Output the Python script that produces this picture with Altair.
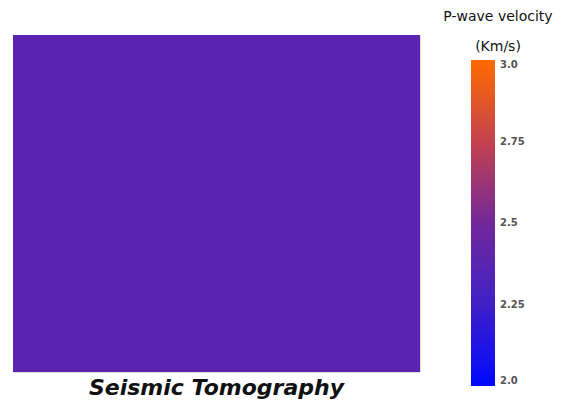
import altair as alt
import pandas as pd

# data: a uniform tomography field
x0 = [0]
x1 = [1]
y0 = [0]
y1 = [1]
velocity = [2.38]

scale_domain = [2.0, 2.25, 2.5, 2.75, 3.0]
scale_range = ["#0008ff", "#4020c8", "#72289a", "#c4424e", "#ff6a00"]
legend_ticks = [2.0, 2.25, 2.5, 2.75, 3.0]

df = pd.DataFrame({"x0": x0, "x1": x1, "y0": y0, "y1": y1, "v": velocity})

chart = alt.Chart(df).mark_rect(stroke=None).encode(
    x=alt.X("x0:Q", axis=None, scale=alt.Scale(domain=[0, 1], nice=False, zero=False)),
    x2="x1:Q",
    y=alt.Y("y0:Q", axis=None, scale=alt.Scale(domain=[0, 1], nice=False, zero=False)),
    y2="y1:Q",
    color=alt.Color(
        "v:Q",
        scale=alt.Scale(domain=scale_domain, range=scale_range, interpolate="rgb"),
        legend=alt.Legend(
            title=["P-wave velocity", "(Km/s)"],
            orient="none",
            legendX=430,
            legendY=-25,
            direction="vertical",
            gradientLength=326,
            gradientThickness=24,
            gradientStrokeWidth=0,
            values=legend_ticks,
            labelExpr="datum.value == 2 ? '2.0' : datum.value == 3 ? '3.0' : format(datum.value, '.2~f')",
            labelFont="DejaVu Sans",
            labelFontSize=10,
            labelFontWeight="bold",
            labelColor="#555555",
            labelOffset=5,
            titleFont="DejaVu Sans",
            titleFontSize=14,
            titleFontWeight="normal",
            titleColor="#111111",
            titleAlign="center",
            titleAnchor="middle",
            titleLineHeight=30,
            titlePadding=6,
            titleLimit=300,
        ),
    ),
).properties(
    width=407,
    height=337,
    title=alt.TitleParams(
        "Seismic Tomography",
        orient="bottom",
        anchor="middle",
        font="DejaVu Sans",
        fontSize=22,
        fontStyle="italic",
        fontWeight="bold",
        color="#111111",
        offset=-8,
    ),
    autosize=alt.AutoSizeParams(type="none"),
    padding={"left": 5, "top": 27, "right": 153, "bottom": 31},
).configure_view(stroke=None).configure(background="white")

chart.save("out.html", embed_options={"renderer": "svg", "actions": False})
